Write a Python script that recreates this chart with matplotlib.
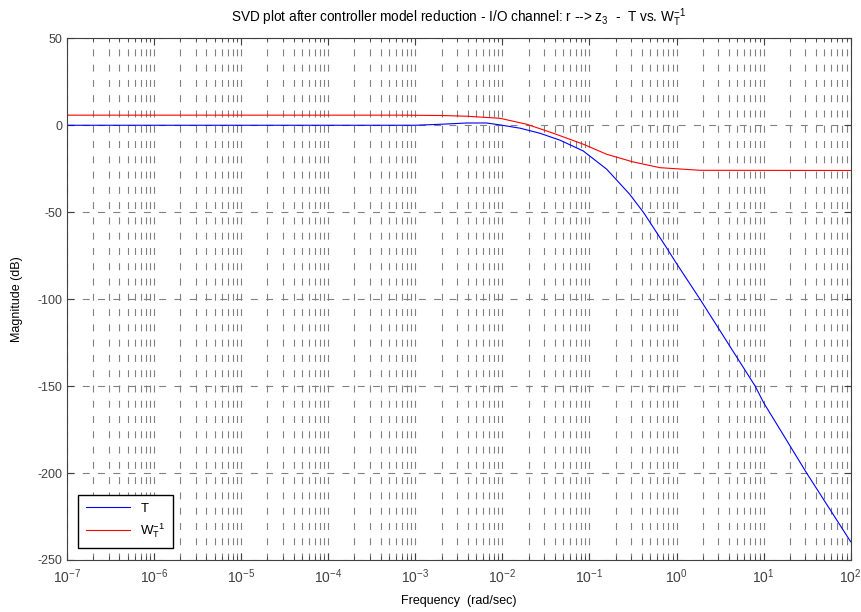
import numpy as np
import matplotlib
matplotlib.use("Agg")
import matplotlib.pyplot as plt
from matplotlib.ticker import FixedLocator, NullFormatter

plt.rcParams['font.family'] = ['Liberation Sans', 'DejaVu Sans']
plt.rcParams['mathtext.default'] = 'regular'
plt.rcParams['axes.unicode_minus'] = False
plt.rcParams['lines.scale_dashes'] = False

# closed-loop T (singular value, dB)
t_freq = [1e-7, 1e-3, 2e-3, 3.9e-3, 6.6e-3, 9.4e-3, 1.6e-2, 2.7e-2, 4.6e-2,
          8.5e-2, 0.158, 0.29, 0.42, 0.77, 1.0, 1.86, 8.0, 10.0, 31.2, 100.0]
t_mag = [0.0, 0.0, 0.6, 1.3, 1.3, 0.2, -1.7, -4.6, -8.6,
         -14.8, -25.3, -39.7, -50.3, -70.5, -79.5, -100.0, -150.0, -159.5, -200.0, -239.5]

# inverse weight W_T^-1 (dB)
w_freq = [1e-7, 6.7e-4, 2e-3, 3.9e-3, 9.4e-3, 1.9e-2, 3.85e-2, 8.5e-2,
          0.158, 0.318, 0.645, 1.86, 100.0]
w_mag = [5.8, 5.8, 5.6, 5.2, 4.0, 0.6, -4.6, -10.9,
         -16.7, -21.1, -24.4, -25.9, -26.0]

y_ticks = [-250, -200, -150, -100, -50, 0, 50]
x_exps = [-7, -6, -5, -4, -3, -2, -1, 0, 1, 2]

fig = plt.figure(figsize=(8.61, 6.12), dpi=100)
ax = fig.add_axes([0.0778, 0.085, 0.9102, 0.8524])

ax.semilogx(t_freq, t_mag, color='#0000ff', lw=0.8, label='T')
ax.semilogx(w_freq, w_mag, color='#ff0000', lw=0.8, label='$W_T^{-1}$')

ax.set_xlim(1e-7, 1e2)
ax.set_ylim(-250, 50)
ax.set_yticks(y_ticks)
ax.set_xticks([10.0 ** e for e in x_exps])
ax.set_xticklabels(['$10^{%d}$' % e for e in x_exps], fontsize=10)
minors = [m * 10.0 ** e for e in x_exps[:-1] for m in range(2, 10)]
ax.xaxis.set_minor_locator(FixedLocator(minors))
ax.xaxis.set_minor_formatter(NullFormatter())

gcol = '#808080'
ax.grid(True, which='major', axis='both', color=gcol, lw=0.8, dashes=(5, 6))
ax.grid(True, which='minor', axis='x', color=gcol, lw=0.8, dashes=(5, 6))

ax.tick_params(which='both', direction='in', top=True, right=True,
               colors='#404040', labelcolor='#404040')
ax.tick_params(axis='y', labelsize=9)
ax.tick_params(axis='x', pad=5)
ax.tick_params(which='major', length=5)
ax.tick_params(which='minor', length=3)
for s in ax.spines.values():
    s.set_color('#404040')
    s.set_linewidth(0.8)

ax.set_xlabel('Frequency  (rad/sec)', fontsize=9, labelpad=7)
ax.set_ylabel('Magnitude (dB)', fontsize=9, labelpad=10)
ax.set_title('SVD plot after controller model reduction - I/O channel: r --> $z_3$  -  T vs. $W_T^{-1}$',
             fontsize=9.8, pad=12)

leg = ax.legend(loc='lower left', fontsize=9.5, fancybox=False, framealpha=1,
                edgecolor='black', handlelength=3.3, borderpad=0.6,
                bbox_to_anchor=(0.006, 0.01))
leg.get_frame().set_linewidth(1.0)

fig.savefig('out.png', dpi=100)
